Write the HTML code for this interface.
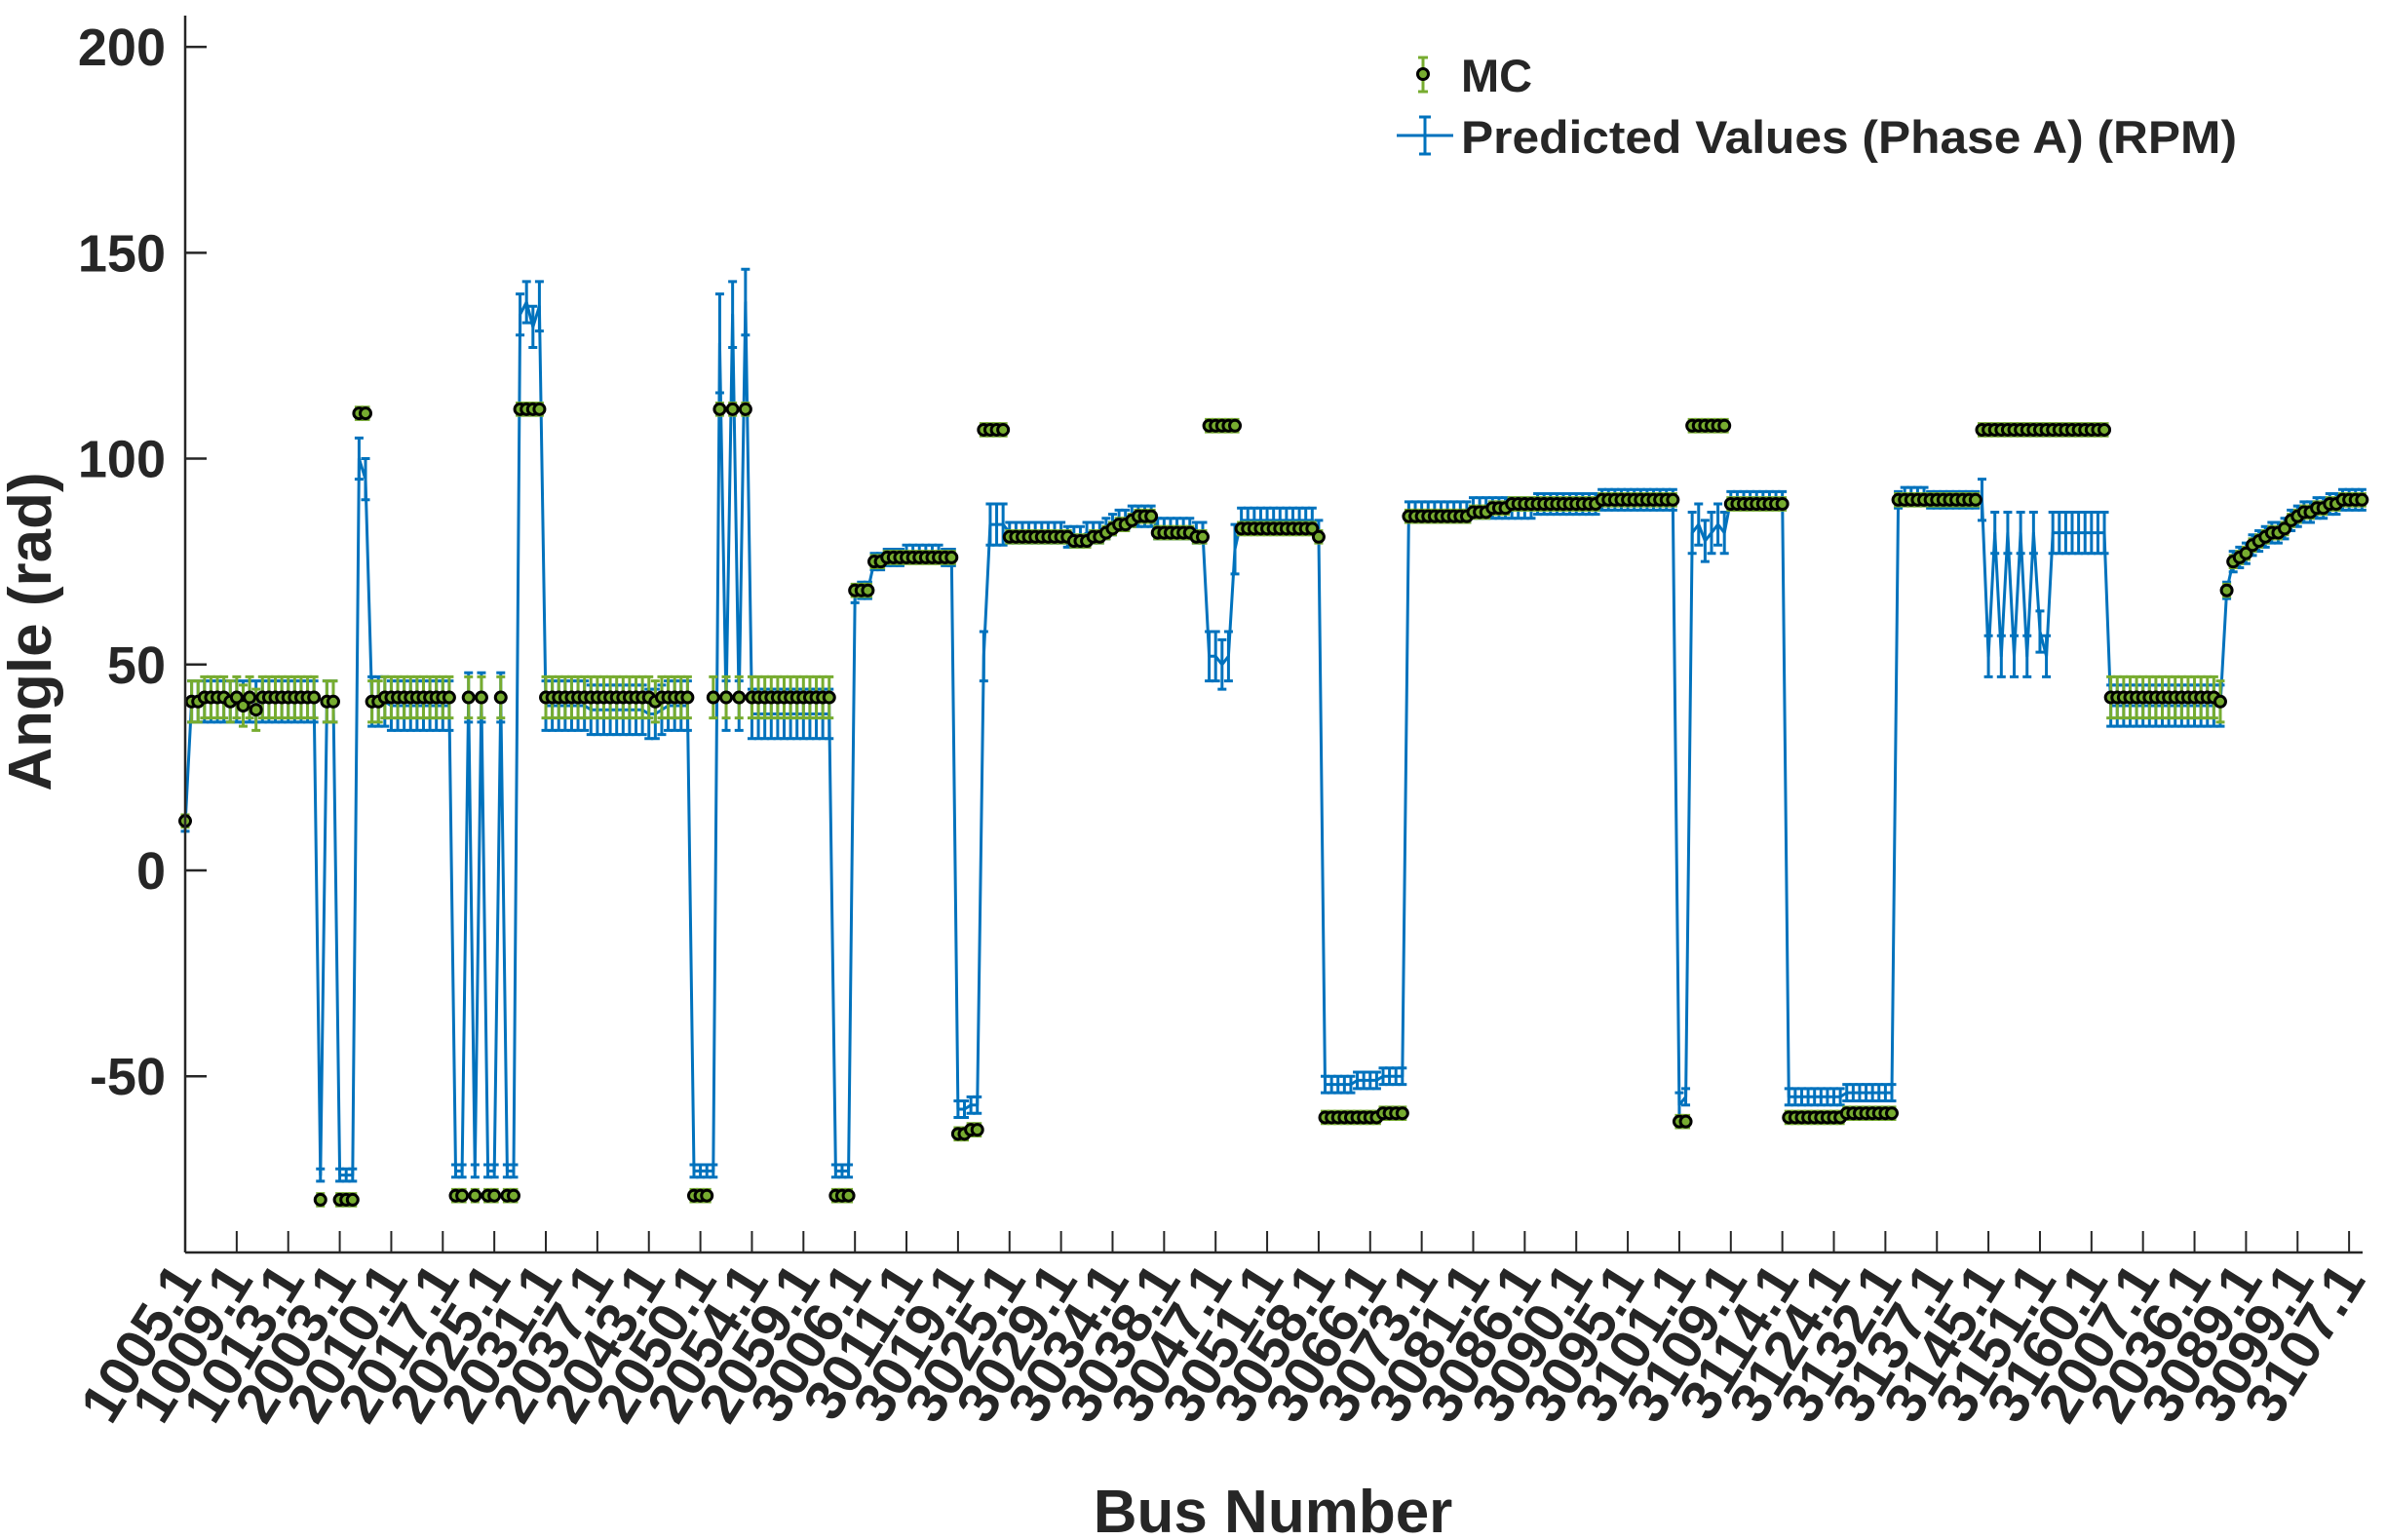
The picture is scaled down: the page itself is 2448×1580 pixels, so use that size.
<!DOCTYPE html>
<html><head><meta charset="utf-8"><title>Angle vs Bus Number</title>
<style>
html,body{margin:0;padding:0;background:#fff;}
svg{display:block;}
text{font-family:"Liberation Sans",Arial,sans-serif;font-weight:bold;fill:#262626;}
</style></head>
<body>
<svg id="chart" width="2448" height="1580" viewBox="0 0 2448 1580" xmlns="http://www.w3.org/2000/svg">
<g id="plot"></g>
<g id="axes"></g>
<text x="0" y="0" font-size="62" text-anchor="middle" transform="translate(52,648) rotate(-90)">Angle (rad)</text>
<text x="1306" y="1572" font-size="62" text-anchor="middle">Bus Number</text>
<g>
  <g>
    <line x1="1460" y1="59" x2="1460" y2="94" stroke="#77AC30" stroke-width="3"/>
    <line x1="1455" y1="59" x2="1465" y2="59" stroke="#77AC30" stroke-width="3"/>
    <line x1="1455" y1="94" x2="1465" y2="94" stroke="#77AC30" stroke-width="3"/>
    <circle cx="1460" cy="76" r="5.5" fill="#77AC30" stroke="#000" stroke-width="3"/>
    <text x="1499" y="94" font-size="47">MC</text>
  </g>
  <g>
    <line x1="1433" y1="139" x2="1491" y2="139" stroke="#0072BD" stroke-width="3"/>
    <line x1="1462" y1="120" x2="1462" y2="158" stroke="#0072BD" stroke-width="3"/>
    <line x1="1456" y1="120" x2="1468" y2="120" stroke="#0072BD" stroke-width="3"/>
    <line x1="1456" y1="158" x2="1468" y2="158" stroke="#0072BD" stroke-width="3"/>
    <text x="1499" y="157" font-size="47" textLength="796" lengthAdjust="spacingAndGlyphs">Predicted Values (Phase A) (RPM)</text>
  </g>
</g>
</svg>
<script>
const mcValues = [12,
41,41,42,42,42,42,41,42,40,42,39,42,42,42,42,42,42,42,42,42,
-80,41,41,-80,-80,-80,
111,111,
41,41,42,42,42,42,42,42,42,42,42,42,42,
-79,-79,42,-79,42,-79,-79,42,-79,-79,
112,112,112,112,
42,42,42,42,42,42,42,42,42,42,42,42,42,42,42,42,42,41,42,42,42,42,42,
-79,-79,-79,
42,112,42,112,42,112,42,
42,42,42,42,42,42,42,42,42,42,42,42,
-79,-79,-79,
68,68,68,
75,75,76,76,76,76,76,76,76,76,76,76,76,
-64,-64,-63,-63,
107,107,107,107,
81,81,81,81,81,81,81,81,81,81,80,80,80,81,81,82,83,84,84,85,86,86,86,
82,82,82,82,82,82,81,81,
108,108,108,108,108,
83,83,83,83,83,83,83,83,83,83,83,83,
81,
-60,-60,-60,-60,-60,-60,-60,-60,-60,-59,-59,-59,-59,
86,86,86,86,86,86,86,86,86,86,87,87,87,88,88,88,89,89,89,89,89,89,89,89,89,89,89,89,89,89,90,90,90,90,90,90,90,90,90,90,90,90,
-61,-61,
108,108,108,108,108,108,
89,89,89,89,89,89,89,89,89,
-60,-60,-60,-60,-60,-60,-60,-60,-60,-59,-59,-59,-59,-59,-59,-59,-59,
90,90,90,90,90,90,90,90,90,90,90,90,90,
107,107,107,107,107,107,107,107,107,107,107,107,107,107,107,107,107,107,107,107,
42,42,42,42,42,42,42,42,42,42,42,42,42,42,42,42,42,41,
68,
75,76,77,79,80,81,82,82,83,85,86,87,87,88,88,89,89,90,90,90,90];

const predValues = [11,
41,41,41,41,41,41,41,41,41,41,41,41,41,41,41,41,41,41,41,41,
-74,41,41,-74,-74,-74,
100,95,
41,41,41,40,40,40,40,40,40,40,40,40,40,
-73,-73,42,-73,42,-73,-73,42,-73,-73,
135,138,132,137,
40,40,40,40,40,40,40,39,39,39,39,39,39,39,39,39,38,38,39,40,40,40,40,
-73,-73,-73,
-73,128,40,135,40,138,38,
38,38,38,38,38,38,38,38,38,38,38,38,
-73,-73,-73,
67,68,68,
75,75,76,76,76,77,77,77,77,77,77,76,76,
-58,-58,-57,-57,
52,84,84,84,
82,82,82,82,82,82,82,82,82,81,81,81,82,82,82,83,84,85,85,86,86,86,86,
83,83,83,83,83,83,82,82,
52,52,50,52,78,
85,85,85,85,85,85,85,85,85,85,85,85,
83,
-52,-52,-52,-52,-52,-51,-51,-51,-51,-50,-50,-50,-50,
87,87,87,87,87,87,87,87,87,87,88,88,88,88,88,88,88,88,88,88,89,89,89,89,89,89,89,89,89,89,90,90,90,90,90,90,90,90,90,90,90,90,
-57,-55,
82,84,80,82,84,82,
90,90,90,90,90,90,90,90,90,
-55,-55,-55,-55,-55,-55,-55,-55,-55,-54,-54,-54,-54,-54,-54,-54,-54,
90,91,91,91,91,90,90,90,90,90,90,90,90,
90,52,82,52,82,52,82,52,82,58,52,82,82,82,82,82,82,82,82,82,
40,40,40,40,40,40,40,40,40,40,40,40,40,40,40,40,40,40,
68,
75,76,77,79,80,81,82,82,83,85,86,87,87,88,88,89,89,90,90,90,90];

const predErrors = [1.5,
5,5,5,5,5,5,5,5,5,5,5,5,5,5,5,5,5,5,5,5,
1.5,5,5,1.5,1.5,1.5,
5,5,
6,6,6,6,6,6,6,6,6,6,6,6,6,
1.5,1.5,6,1.5,6,1.5,1.5,6,1.5,1.5,
5,5,5,6,
6,6,6,6,6,6,6,6,6,6,6,6,6,6,6,6,6,6,6,6,6,6,6,
1.5,1.5,1.5,
1.5,12,6,8,6,8,6,
6,6,6,6,6,6,6,6,6,6,6,6,
1.5,1.5,1.5,
2,2,2,
2,2,2,2,2,2,2,2,2,2,2,2,2,
2,2,2,2,
6,5,5,5,
2.5,2.5,2.5,2.5,2.5,2.5,2.5,2.5,2.5,2.5,2.5,2.5,2.5,2.5,2.5,2.5,2.5,2.5,2.5,2.5,2.5,2.5,2.5,
2.5,2.5,2.5,2.5,2.5,2.5,2.5,2.5,
6,6,6,6,6,
3,3,3,3,3,3,3,3,3,3,3,3,
2,
2,2,2,2,2,2,2,2,2,2,2,2,2,
2.5,2.5,2.5,2.5,2.5,2.5,2.5,2.5,2.5,2.5,2.5,2.5,2.5,2.5,2.5,2.5,2.5,2.5,2.5,2.5,2.5,2.5,2.5,2.5,2.5,2.5,2.5,2.5,2.5,2.5,2.5,2.5,2.5,2.5,2.5,2.5,2.5,2.5,2.5,2.5,2.5,2.5,
3,2,
5,5,5,5,5,5,
2,2,2,2,2,2,2,2,2,
2,2,2,2,2,2,2,2,2,2,2,2,2,2,2,2,2,
2,2,2,2,2,2,2,2,2,2,2,2,2,
5,5,5,5,5,5,5,5,5,5,5,5,5,5,5,5,5,5,5,5,
5,5,5,5,5,5,5,5,5,5,5,5,5,5,5,5,5,5,
2,
2.5,2.5,2.5,2.5,2.5,2.5,2.5,2.5,2.5,2.5,2.5,2.5,2.5,2.5,2.5,2.5,2.5,2.5,2.5,2.5,2.5];

const mcErrors = [1.5,
5,5,5,5,5,5,5,5,5,5,5,5,5,5,5,5,5,5,5,5,
1.5,5,5,1.5,1.5,1.5,
1.5,1.5,
5,5,5,5,5,5,5,5,5,5,5,5,5,
1.5,1.5,5,1.5,5,1.5,1.5,5,1.5,1.5,
1.5,1.5,1.5,1.5,
5,5,5,5,5,5,5,5,5,5,5,5,5,5,5,5,5,5,5,5,5,5,5,
1.5,1.5,1.5,
5,1.5,5,1.5,5,1.5,5,
5,5,5,5,5,5,5,5,5,5,5,5,
1.5,1.5,1.5,
1.5,1.5,1.5,
1.5,1.5,1.5,1.5,1.5,1.5,1.5,1.5,1.5,1.5,1.5,1.5,1.5,
1.5,1.5,1.5,1.5,
1.5,1.5,1.5,1.5,
1.5,1.5,1.5,1.5,1.5,1.5,1.5,1.5,1.5,1.5,1.5,1.5,1.5,1.5,1.5,1.5,1.5,1.5,1.5,1.5,1.5,1.5,1.5,
1.5,1.5,1.5,1.5,1.5,1.5,1.5,1.5,
1.5,1.5,1.5,1.5,1.5,
1.5,1.5,1.5,1.5,1.5,1.5,1.5,1.5,1.5,1.5,1.5,1.5,
1.5,
1.5,1.5,1.5,1.5,1.5,1.5,1.5,1.5,1.5,1.5,1.5,1.5,1.5,
1.5,1.5,1.5,1.5,1.5,1.5,1.5,1.5,1.5,1.5,1.5,1.5,1.5,1.5,1.5,1.5,1.5,1.5,1.5,1.5,1.5,1.5,1.5,1.5,1.5,1.5,1.5,1.5,1.5,1.5,1.5,1.5,1.5,1.5,1.5,1.5,1.5,1.5,1.5,1.5,1.5,1.5,
1.5,1.5,
1.5,1.5,1.5,1.5,1.5,1.5,
1.5,1.5,1.5,1.5,1.5,1.5,1.5,1.5,1.5,
1.5,1.5,1.5,1.5,1.5,1.5,1.5,1.5,1.5,1.5,1.5,1.5,1.5,1.5,1.5,1.5,1.5,
1.5,1.5,1.5,1.5,1.5,1.5,1.5,1.5,1.5,1.5,1.5,1.5,1.5,
1.5,1.5,1.5,1.5,1.5,1.5,1.5,1.5,1.5,1.5,1.5,1.5,1.5,1.5,1.5,1.5,1.5,1.5,1.5,1.5,
5,5,5,5,5,5,5,5,5,5,5,5,5,5,5,5,5,5,
1.5,
1.5,1.5,1.5,1.5,1.5,1.5,1.5,1.5,1.5,1.5,1.5,1.5,1.5,1.5,1.5,1.5,1.5,1.5,1.5,1.5,1.5];

const xTickLabelsFull = ["1005.1","1009.1","1013.1","2003.1","2010.1","2017.1","2025.1","2031.1","2037.1","2043.1","2050.1","2054.1","2059.1","3006.1","3011.1","3019.1","3025.1","3029.1","3034.1","3038.1","3047.1","3051.1","3058.1","3066.1","3073.1","3081.1","3086.1","3090.1","3095.1","3101.1","3109.1","3114.1","3124.1","3132.1","3137.1","3145.1","3151.1","3160.1","2007.1","2036.1","3089.1","3099.1","3107.1"];
const yTicks = [-50,0,50,100,150,200];

const NS = "http://www.w3.org/2000/svg";
const L = 190, R = 2424, T = 16, B = 1285;
const xMin = 1, xMax = 339.1, yMin = -92.8, yMax = 207.6;
function xs(i){ return L + (i - xMin) / (xMax - xMin) * (R - L); }
function ys(v){ return B - (v - yMin) / (yMax - yMin) * (B - T); }
function mk(tag, attrs, parent){
  const e = document.createElementNS(NS, tag);
  for (const k in attrs) e.setAttribute(k, attrs[k]);
  parent.appendChild(e);
  return e;
}
const plot = document.getElementById('plot');
const axes = document.getElementById('axes');
const n = predValues.length;
const cap = 4.5;

let d = '';
for (let i = 0; i < n; i++) d += (i ? 'L' : 'M') + xs(i + 1).toFixed(1) + ' ' + ys(predValues[i]).toFixed(1);
const pl = mk('path', {d: d, fill: 'none', stroke: '#0072BD', 'stroke-width': 3, 'stroke-linejoin': 'round'}, plot);



const pe = mk('g', {stroke: '#0072BD', 'stroke-width': 3}, plot);


for (let i = 0; i < n; i++) {
  const x = xs(i + 1), y1 = ys(predValues[i] + predErrors[i]), y2 = ys(predValues[i] - predErrors[i]);
  const p = mk('path', {d: `M${x} ${y1}L${x} ${y2}M${x-cap} ${y1}L${x+cap} ${y1}M${x-cap} ${y2}L${x+cap} ${y2}`}, pe);
  
  
}

const me = mk('g', {stroke: '#77AC30', 'stroke-width': 3}, plot);


const mm = mk('g', {fill: '#77AC30', stroke: '#000', 'stroke-width': 3}, plot);


for (let i = 0; i < mcValues.length; i++) {
  const x = xs(i + 1), y1 = ys(mcValues[i] + mcErrors[i]), y2 = ys(mcValues[i] - mcErrors[i]);
  const p = mk('path', {d: `M${x} ${y1}L${x} ${y2}M${x-cap} ${y1}L${x+cap} ${y1}M${x-cap} ${y2}L${x+cap} ${y2}`}, me);
  
  
  const c = mk('circle', {cx: x, cy: ys(mcValues[i]), r: 5.5}, mm);
  
  
}

const ya = mk('line', {x1: L, y1: T, x2: L, y2: B, stroke: '#262626', 'stroke-width': 2.5}, axes);


const xa = mk('line', {x1: L, y1: B, x2: R, y2: B, stroke: '#262626', 'stroke-width': 2.5}, axes);



yTicks.forEach(v => {
  const y = ys(v);
  const t = mk('line', {x1: L, y1: y, x2: L + 22, y2: y, stroke: '#262626', 'stroke-width': 2.5}, axes);
  
  
  const tx = mk('text', {x: 170, y: y + 19, 'font-size': 54, 'text-anchor': 'end'}, axes);
  tx.textContent = String(v);
  
  
});

xTickLabelsFull.forEach((lab, k) => {
  const x = xs(1 + 8 * k);
  const t = mk('line', {x1: x, y1: B, x2: x, y2: B - 22, stroke: '#262626', 'stroke-width': 2}, axes);
  
  
  const tx = mk('text', {x: 0, y: 0, 'font-size': 58, 'text-anchor': 'end', transform: `translate(${x + 18},${B + 28}) rotate(-58)`}, axes);
  tx.textContent = lab;
  
  
});
</script>
</body></html>
